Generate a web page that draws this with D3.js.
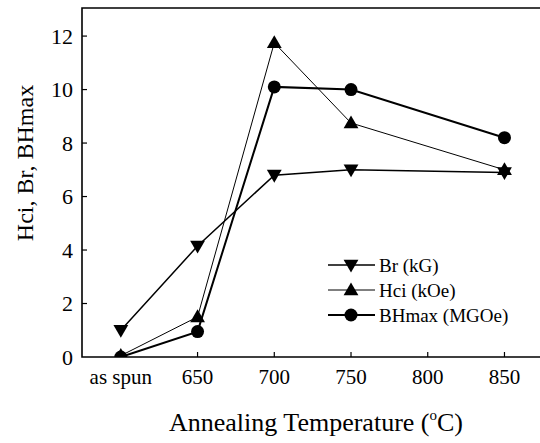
<!DOCTYPE html>
<html>
<head>
<meta charset="utf-8">
<script src="https://cdn.jsdelivr.net/npm/d3@7"></script>
<style>
  body { margin: 0; background: #fff; }
</style>
</head>
<body>
<div id="chart"></div>
<script>
const width = 540;
const height = 443;
const margin = { top: 8, right: 1, bottom: 86, left: 82 };
const serif = '"Liberation Serif", serif';

// x positions: "as spun" sits one step left of 650
const temps = [600, 650, 700, 750, 850];
const tickVals = [600, 650, 700, 750, 800, 850];
const tickLabels = ['as spun', '650', '700', '750', '800', '850'];
const brVals = [1.0, 4.15, 6.8, 7.0, 6.9];
const hciVals = [0.05, 1.5, 11.75, 8.75, 7.0];
const bhVals = [0.0, 0.95, 10.1, 10.0, 8.2];
const yTicks = [0, 2, 4, 6, 8, 10, 12];

const series = [
  { name: 'Br (kG)', vals: brVals, sym: 'down', lw: 1.5 },
  { name: 'Hci (kOe)', vals: hciVals, sym: 'up', lw: 1 },
  { name: 'BHmax (MGOe)', vals: bhVals, sym: 'circle', lw: 2 }
];

const svg = d3.select('#chart').append('svg')
  .attr('width', width).attr('height', height);

const x = d3.scaleLinear().domain([574.7, 872.5]).range([margin.left, width - margin.right]);
const y = d3.scaleLinear().domain([0, 13.05]).range([height - margin.bottom, margin.top]);

svg.append('clipPath').attr('id', 'clip')
  .append('rect')
  .attr('x', margin.left).attr('y', margin.top)
  .attr('width', width - margin.left - margin.right)
  .attr('height', height - margin.top - margin.bottom);

// frame: left, top and bottom lines
svg.append('path')
  .attr('d', `M${width},${y(13.05)}H${margin.left}V${y(0)}H${width}`)
  .attr('fill', 'none').attr('stroke', '#000').attr('stroke-width', 1.6);

// y ticks inward
svg.selectAll('.ytick').data(yTicks.filter(d => d > 0)).join('line')
  .attr('x1', margin.left).attr('x2', margin.left + 5)
  .attr('y1', d => y(d)).attr('y2', d => y(d))
  .attr('stroke', '#000').attr('stroke-width', 1.2);

svg.selectAll('.ylab').data(yTicks).join('text')
  .attr('x', margin.left - 9).attr('y', d => y(d))
  .attr('dy', '0.35em')
  .attr('text-anchor', 'end')
  .style('font-family', serif)
  .style('font-size', '22px')
  .text(d => d);

// x ticks inward
svg.selectAll('.xtick').data(tickVals.slice(1)).join('line')
  .attr('x1', d => x(d)).attr('x2', d => x(d))
  .attr('y1', y(0)).attr('y2', y(0) - 5)
  .attr('stroke', '#000').attr('stroke-width', 1.2);

svg.selectAll('.xlab').data(tickVals).join('text')
  .attr('x', d => x(d)).attr('y', y(0) + 27)
  .attr('text-anchor', 'middle')
  .style('font-family', serif)
  .style('font-size', '21px')
  .text((d, i) => tickLabels[i]);

// axis titles
const xt = svg.append('text')
  .attr('x', 316).attr('y', 431)
  .attr('text-anchor', 'middle')
  .style('font-family', serif)
  .style('font-size', '26px')
  .text('Annealing Temperature (');
xt.append('tspan').attr('dy', -11).style('font-size', '15px').text('o');
xt.append('tspan').attr('dy', 11).text('C)');

svg.append('text')
  .attr('transform', `translate(33,163) rotate(-90)`)
  .attr('text-anchor', 'middle')
  .style('font-family', serif)
  .style('font-size', '24px')
  .text('Hci, Br, BHmax');

const line = d3.line().x((d, i) => x(temps[i])).y(d => y(d));

function marker(g, sym, cx, cy) {
  if (sym === 'circle') {
    g.append('circle').attr('cx', cx).attr('cy', cy).attr('r', 6.5).attr('fill', '#000');
  } else {
    const s = d3.symbol().type(d3.symbolTriangle).size(95)();
    g.append('path').attr('d', s)
      .attr('transform', `translate(${cx},${cy + (sym === 'down' ? -1 : 1)}) rotate(${sym === 'down' ? 180 : 0})`)
      .attr('fill', '#000');
  }
}

const plot = svg.append('g').attr('clip-path', 'url(#clip)');
series.forEach(s => {
  plot.append('path').datum(s.vals)
    .attr('d', line)
    .attr('fill', 'none').attr('stroke', '#000').attr('stroke-width', s.lw);
});
[series[2], series[1], series[0]].forEach(s => {
  s.vals.forEach((v, i) => marker(plot, s.sym, x(temps[i]), y(v)));
});

// legend
const lg = svg.append('g');
series.forEach((s, i) => {
  const ly = 265 + i * 25;
  lg.append('line').attr('x1', 328).attr('x2', 375).attr('y1', ly).attr('y2', ly)
    .attr('stroke', '#000').attr('stroke-width', s.lw);
  marker(lg, s.sym, 351, ly);
  lg.append('text').attr('x', 379).attr('y', ly).attr('dy', '0.35em')
    .style('font-family', serif)
    .style('font-size', '19px').text(s.name);
});
</script>
</body>
</html>
